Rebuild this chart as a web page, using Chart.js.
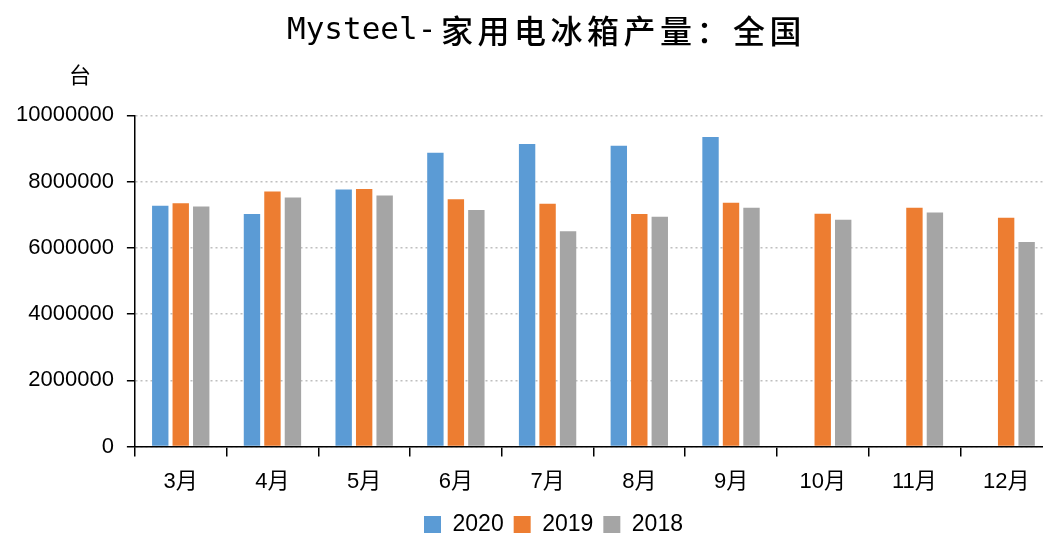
<!DOCTYPE html>
<html>
<head>
<meta charset="utf-8">
<script src="https://cdn.jsdelivr.net/npm/chart.js@4"></script>
<style>
  html, body { margin: 0; padding: 0; background: #fff; overflow: hidden; }
  #wrap { width: 1052px; height: 534px; }
</style>
</head>
<body>
<div id="wrap"><canvas id="chart" width="1052" height="534"></canvas></div>
<script>
// data
const months = ['3月', '4月', '5月', '6月', '7月', '8月', '9月', '10月', '11月', '12月'];
const y2020 = [7270000, 7020000, 7760000, 8870000, 9140000, 9080000, 9350000, null, null, null];
const y2019 = [7350000, 7700000, 7780000, 7470000, 7330000, 7020000, 7360000, 7030000, 7210000, 6910000];
const y2018 = [7250000, 7520000, 7580000, 7140000, 6500000, 6940000, 7210000, 6850000, 7070000, 6180000];

const titleLatin = 'Mysteel-';
const titleCjk = '家用电冰箱产量：全国';
const latin = "'Liberation Sans', 'Noto Sans CJK SC', sans-serif";

// title (mono latin + spaced CJK) and unit label above the y axis
const extraText = {
    id: 'extraText',
    afterLayout(chart) {
        // legend sits a bit right of the canvas centre in the original
        chart.legend.left += 26;
        chart.legend.right += 26;
    },
    afterDraw(chart) {
        const ctx = chart.ctx;
        const area = chart.chartArea;
        ctx.save();
        ctx.fillStyle = '#000';
        ctx.textBaseline = 'middle';
        ctx.textAlign = 'left';
        ctx.font = "31px 'DejaVu Sans Mono', monospace";
        ctx.fillText(titleLatin, 287, 31);
        ctx.font = "500 32px 'Noto Sans CJK SC'";
        ctx.letterSpacing = '4.5px';
        ctx.fillText(titleCjk, 441, 31);
        ctx.letterSpacing = '0px';

        ctx.font = "22px 'Noto Sans CJK SC'";
        ctx.textAlign = 'center';
        ctx.fillText('台', area.left - 55, area.top - 41);
        ctx.restore();
    }
};

const ctx = document.getElementById('chart').getContext('2d');
const chart = new Chart(ctx, {
    type: 'bar',
    data: {
        labels: months,
        datasets: [
            { label: '2020', data: y2020, backgroundColor: '#5B9BD5' },
            { label: '2019', data: y2019, backgroundColor: '#ED7D31' },
            { label: '2018', data: y2018, backgroundColor: '#A5A5A5' }
        ]
    },
    options: {
        responsive: false,
        animation: false,
        categoryPercentage: 0.67,
        barPercentage: 0.8,
        layout: {
            padding: { left: 3, right: 0, top: 0, bottom: -12 }
        },
        scales: {
            x: {
                grid: {
                    drawOnChartArea: false,
                    drawTicks: true,
                    tickLength: 10,
                    tickColor: '#000',
                    lineWidth: 1.5
                },
                border: { color: '#000', width: 1.5 },
                ticks: {
                    color: '#000',
                    padding: 12,
                    font: { family: latin, size: 22 }
                },
                afterFit: function(scale) {
                    scale.height -= 4;
                }
            },
            y: {
                min: 0,
                max: 10000000,
                grid: {
                    color: '#BFBFBF',
                    lineWidth: 1.5,
                    tickColor: '#000',
                    tickLength: 8,
                    tickWidth: 1.5
                },
                border: { color: '#000', width: 1.5, dash: [2, 3] },
                ticks: {
                    stepSize: 2000000,
                    color: '#000',
                    padding: 13,
                    font: { family: latin, size: 22 },
                    callback: function(value) {
                        return String(value);
                    }
                }
            }
        },
        plugins: {
            title: {
                display: true,
                text: titleLatin + titleCjk,
                color: 'rgba(0,0,0,0)',
                font: { family: "'DejaVu Sans Mono', 'Noto Sans CJK SC', monospace", size: 32, weight: 'normal' },
                padding: { top: 11, bottom: 66 }
            },
            legend: {
                display: true,
                position: 'bottom',
                labels: {
                    boxWidth: 17,
                    boxHeight: 17,
                    padding: 10,
                    color: '#000',
                    font: { family: latin, size: 23 }
                }
            },
            tooltip: { enabled: false }
        }
    },
    plugins: [extraText]
});
</script>
</body>
</html>
